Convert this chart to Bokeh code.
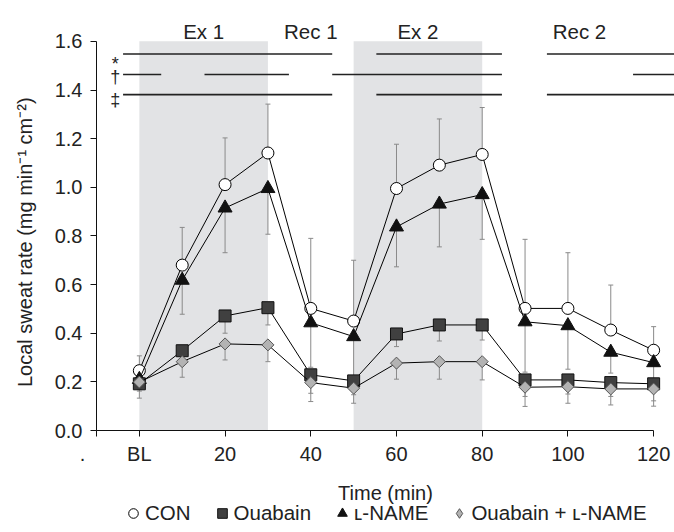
import numpy as np
from bokeh.plotting import figure
from bokeh.layouts import column
from bokeh.models import (FixedTicker, NumeralTickFormatter, Legend, LegendItem, Range1d)
from bokeh.core.properties import value
from bokeh.embed import file_html
from bokeh.resources import INLINE

# ---------------- data ----------------
time = [0, 10, 20, 30, 40, 50, 60, 70, 80, 90, 100, 110, 120]

con = [0.246, 0.680, 1.011, 1.141, 0.502, 0.450, 0.995, 1.091, 1.135, 0.502, 0.502, 0.413, 0.330]
con_se = [0.061, 0.155, 0.192, 0.201, 0.288, 0.250, 0.182, 0.190, 0.193, 0.284, 0.229, 0.185, 0.097]

lname = [0.210, 0.618, 0.915, 0.995, 0.443, 0.386, 0.837, 0.931, 0.970, 0.447, 0.431, 0.322, 0.279]
lname_se = [0.040, 0.140, 0.184, 0.188, 0.183, 0.166, 0.164, 0.176, 0.184, 0.207, 0.179, 0.086, 0.079]

ouabain = [0.192, 0.328, 0.471, 0.505, 0.229, 0.204, 0.397, 0.434, 0.434, 0.208, 0.208, 0.197, 0.192]
ouabain_se = [0.030, 0.058, 0.071, 0.071, 0.076, 0.057, 0.052, 0.066, 0.062, 0.068, 0.058, 0.057, 0.070]

oua_lname = [0.199, 0.283, 0.356, 0.352, 0.197, 0.174, 0.277, 0.283, 0.283, 0.178, 0.180, 0.171, 0.171]
oua_lname_se = [0.066, 0.064, 0.066, 0.069, 0.078, 0.062, 0.066, 0.072, 0.075, 0.079, 0.068, 0.066, 0.071]

x_ticks = [-10, 0, 20, 40, 60, 80, 100, 120]
x_tick_labels = [".\u00a0\u00a0\u00a0\u00a0\u00a0", "BL", "20", "40", "60", "80", "100", "120"]
y_ticks = [0.0, 0.2, 0.4, 0.6, 0.8, 1.0, 1.2, 1.4, 1.6]

x_title = "Time (min)"
y_title = "Local sweat rate (mg min\u207b\u00b9 cm\u207b\u00b2)"

phase_names = ["Ex 1", "Rec 1", "Ex 2", "Rec 2"]
phase_centers = [15, 40, 65, 102.7]
exercise_start = [0, 50]
exercise_end = [30, 80]

sig_symbols = ["*", "\u2020", "\u2021"]
sig_segments = [
    [(-3.8, 45), (55.3, 84.6), (95.1, 125)],
    [(-3.8, 5.1), (15.2, 34.9), (45, 84.6), (115.2, 125)],
    [(-3.8, 45), (55.3, 84.6), (95.1, 125)],
]

series_names = ["CON", "Ouabain", "\u029f-NAME", "Ouabain + \u029f-NAME"]

# ---------------- layout constants ----------------
FONT = "Liberation Sans"
sig_line_y = [1.548, 1.464, 1.381]
sig_symbol_y = [1.5066, 1.4544, 1.360]
sig_symbol_x = -5.6
phase_label_y = 1.642
shade_top = 1.6
ERR = "#8a8a8a"
TXT = "#222222"

p = figure(width=674, height=467, x_range=Range1d(-10, 124.87), y_range=Range1d(0, 1.731),
           output_backend="svg", toolbar_location=None,
           min_border_left=96, min_border_right=0, min_border_top=9, min_border_bottom=36)
p.outline_line_color = None
p.grid.visible = False
p.background_fill_color = "white"

# shading of exercise periods
p.quad(left=exercise_start, right=exercise_end, bottom=[0, 0], top=[shade_top, shade_top],
       fill_color="#e2e3e5", line_color=None)

# significance lines
for yl, segs in zip(sig_line_y, sig_segments):
    p.segment(x0=[s[0] for s in segs], x1=[s[1] for s in segs], y0=[yl] * len(segs),
              y1=[yl] * len(segs), line_color="#222222", line_width=1.6)
p.text(x=[sig_symbol_x] * 3, y=sig_symbol_y, text=sig_symbols, text_font=value(FONT),
       text_font_size="18px", text_align="center", text_baseline="alphabetic", text_color=TXT)

# phase labels
p.text(x=phase_centers, y=[phase_label_y] * len(phase_names), text=phase_names,
       text_font=value(FONT), text_font_size="20.5px", text_align="center",
       text_baseline="alphabetic", text_color=TXT)

# error bars
def err(vals, ses, up):
    ends = [v + s if up else v - s for v, s in zip(vals, ses)]
    p.segment(x0=time, x1=time, y0=vals, y1=ends, line_color=ERR, line_width=1)
    p.scatter(x=time, y=ends, marker="dash", size=5, line_color=ERR, line_width=1)

err(con, con_se, True)
err(lname, lname_se, False)
err(ouabain, ouabain_se, False)
err(oua_lname, oua_lname_se, False)

# series
p.line(time, con, line_color="black", line_width=1)
p.scatter(time, con, marker="circle", size=12, fill_color="white", line_color="black", line_width=1)

p.line(time, lname, line_color="black", line_width=1)
p.scatter(time, lname, marker="triangle", size=14, fill_color="#111111", line_color="#111111")

p.line(time, ouabain, line_color="black", line_width=1)
p.scatter(time, ouabain, marker="square", size=12, fill_color="#404040", line_color="#111111")

p.line(time, oua_lname, line_color="black", line_width=1)
p.scatter(time, oua_lname, marker="square", angle=np.pi / 4, size=8.5, fill_color="#b3b3b3",
          line_color="#555555")

# axes
p.xaxis.ticker = FixedTicker(ticks=x_ticks)
p.xaxis.major_label_overrides = {t: l for t, l in zip(x_ticks, x_tick_labels)}
p.xaxis.bounds = (-10, 120)
p.yaxis.ticker = FixedTicker(ticks=y_ticks)
p.yaxis.formatter = NumeralTickFormatter(format="0.0")
p.yaxis.bounds = (0, 1.6)
p.yaxis.axis_label = y_title + "\u00a0" * 8

for ax in (p.xaxis[0], p.yaxis[0]):
    ax.minor_tick_line_color = None
    ax.major_tick_in = 0
    ax.major_tick_out = 6
    ax.axis_line_color = "#111111"
    ax.major_tick_line_color = "#111111"
    ax.major_label_text_font = FONT
    ax.major_label_text_font_size = "20px"
    ax.major_label_text_color = TXT
    ax.axis_label_text_font = FONT
    ax.axis_label_text_font_size = "20px"
    ax.axis_label_text_font_style = "normal"
    ax.axis_label_text_color = TXT
p.xaxis.major_label_standoff = 6
p.yaxis.major_label_standoff = 8
p.yaxis.axis_label_standoff = 16

# strip below the chart: x-axis title and marker-only legend
LG_H = 65
lg = figure(width=674, height=LG_H, x_range=Range1d(0, 1), y_range=Range1d(0, LG_H),
            output_backend="svg", toolbar_location=None,
            x_axis_location=None, y_axis_location=None, min_border=0)
lg.outline_line_color = None
lg.grid.visible = False
lg.text(x=[0.5], y=[40], text=[x_title], text_font=value(FONT), text_font_size="20px",
        text_align="center", text_baseline="middle", text_color=TXT)
nan = [np.nan]
r1 = lg.scatter(nan, nan, marker="circle", fill_color="white", line_color="black")
r2 = lg.scatter(nan, nan, marker="square", fill_color="#404040", line_color="#111111")
r3 = lg.scatter(nan, nan, marker="triangle", fill_color="#111111", line_color="#111111")
r4 = lg.scatter(nan, nan, marker="diamond", fill_color="#b3b3b3", line_color="#555555")
legend = Legend(items=[LegendItem(label=n, renderers=[r]) for n, r in zip(series_names, [r1, r2, r3, r4])],
                orientation="horizontal", location=(25, 7), padding=0, margin=0, spacing=19,
                glyph_width=24, glyph_height=24, label_standoff=0,
                label_text_font=FONT, label_text_font_size="20.5px", label_text_color=TXT,
                border_line_color=None, background_fill_alpha=0)
lg.add_layout(legend)

layout = column(p, lg, spacing=0)
open("out.html", "w").write(file_html(layout, INLINE))
